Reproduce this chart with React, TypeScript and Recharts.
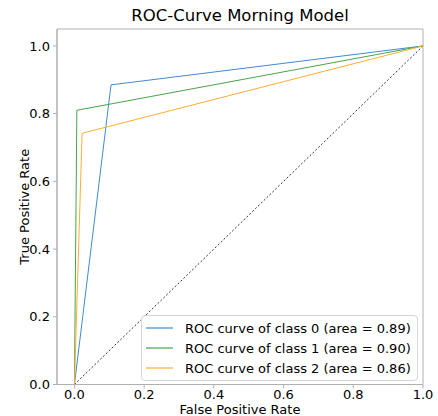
import React from "react";
import {
  LineChart,
  Line,
  XAxis,
  YAxis,
  Legend,
  ReferenceArea,
} from "recharts";

// ROC points per class (false positive rate / true positive rate)
const fpr0 = [0, 0.105, 1];
const tpr0 = [0, 0.885, 1];
const fpr1 = [0, 0.007, 1];
const tpr1 = [0, 0.81, 1];
const fpr2 = [0, 0.022, 1];
const tpr2 = [0, 0.742, 1];
const chanceX = [0, 1];
const chanceY = [0, 1];

const seriesNames = [
  "ROC curve of class 0 (area = 0.89)",
  "ROC curve of class 1 (area = 0.90)",
  "ROC curve of class 2 (area = 0.86)",
];
const seriesColors = ["#3f8ad2", "#47a447", "#ffad33"];
const axisTicks = [0, 0.2, 0.4, 0.6, 0.8, 1.0];

const toPoints = (xs: number[], ys: number[]) => xs.map((x, i) => ({ x, y: ys[i] }));

const FONT = "'DejaVu Sans', sans-serif";
const FRAME = "#b0b0b0";

function LegendBox({ payload }: any) {
  const items = (payload || []).filter((p: any) => p.type !== "none");
  return (
    <div
      style={{
        border: "1px solid #d6d6d6",
        borderRadius: 4,
        background: "rgba(255,255,255,0.85)",
        padding: "2px 6px 2px 4px",
        fontFamily: FONT,
        fontSize: 13,
        color: "#000",
      }}
    >
      {items.map((p: any) => (
        <div key={p.value} style={{ display: "flex", alignItems: "center", height: 20 }}>
          <svg width={28} height={4} style={{ marginRight: 11 }}>
            <line x1={0} y1={2} x2={27} y2={2} stroke={p.color} strokeWidth={1.2} />
          </svg>
          <span style={{ whiteSpace: "nowrap" }}>{p.value}</span>
        </div>
      ))}
    </div>
  );
}

export default function App() {
  return (
    <div style={{ position: "fixed", left: 0, top: 0, width: 438, height: 416, background: "#fff" }}>
      <div
        style={{
          position: "absolute",
          left: 57,
          width: 366,
          top: 6,
          textAlign: "center",
          fontFamily: FONT,
          fontSize: 16.5,
          color: "#000",
          lineHeight: "20px",
        }}
      >
        ROC-Curve Morning Model
      </div>
      <LineChart
        width={438}
        height={416}
        margin={{ top: 29, right: 15, left: 0, bottom: 0 }}
        style={{ fontFamily: FONT }}
      >
        <XAxis
          type="number"
          dataKey="x"
          domain={[-0.05, 1]}
          ticks={axisTicks}
          allowDataOverflow
          height={31.5}
          tickFormatter={(v: number) => v.toFixed(1)}
          tick={{ fontSize: 13, fill: "#000" }}
          tickSize={4}
          tickMargin={1}
          stroke={FRAME}
          label={{ value: "False Positive Rate", position: "insideBottom", offset: 2, style: { fontSize: 13, fill: "#000" } }}
        />
        <YAxis
          type="number"
          dataKey="y"
          domain={[0, 1.05]}
          ticks={axisTicks}
          allowDataOverflow
          width={57}
          tickFormatter={(v: number) => v.toFixed(1)}
          tick={{ fontSize: 13, fill: "#000" }}
          tickSize={4}
          tickMargin={3}
          stroke={FRAME}
          label={{
            value: "True Positive Rate",
            angle: -90,
            position: "insideLeft",
            offset: 24,
            style: { fontSize: 13, fill: "#000", textAnchor: "middle" },
          }}
        />
        <ReferenceArea x1={-0.05} x2={1} y1={0} y2={1.05} fill="none" stroke={FRAME} strokeWidth={1} ifOverflow="visible" />
        <Line
          data={toPoints(chanceX, chanceY)}
          dataKey="y"
          stroke="#000"
          strokeWidth={0.8}
          strokeDasharray="2 2"
          dot={false}
          legendType="none"
          isAnimationActive={false}
        />
        <Line data={toPoints(fpr0, tpr0)} dataKey="y" name={seriesNames[0]} stroke={seriesColors[0]} strokeWidth={1} dot={false} isAnimationActive={false} />
        <Line data={toPoints(fpr1, tpr1)} dataKey="y" name={seriesNames[1]} stroke={seriesColors[1]} strokeWidth={1} dot={false} isAnimationActive={false} />
        <Line data={toPoints(fpr2, tpr2)} dataKey="y" name={seriesNames[2]} stroke={seriesColors[2]} strokeWidth={1} dot={false} isAnimationActive={false} />
        <Legend
          layout="vertical"
          align="center"
          verticalAlign="middle"
          content={<LegendBox />}
          wrapperStyle={{ left: 141, top: 315, width: "auto" }}
        />
      </LineChart>
    </div>
  );
}
